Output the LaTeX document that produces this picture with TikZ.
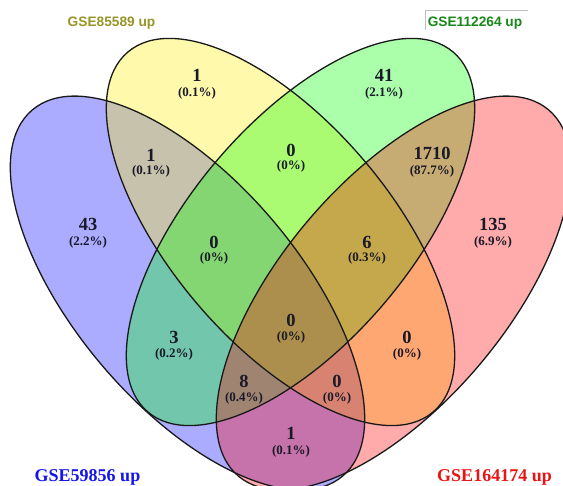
\documentclass[tikz,border=0pt]{standalone}
\usepackage{fontspec}
\setmainfont{Liberation Serif}
\newfontfamily\titlesans{Liberation Sans}
\definecolor{olivetitle}{RGB}{150,150,40}
\definecolor{greentitle}{RGB}{25,135,25}
\definecolor{bluetitle}{RGB}{20,20,235}
\definecolor{redtitle}{RGB}{235,20,20}
\definecolor{numcol}{RGB}{25,25,40}
\begin{document}
\begin{tikzpicture}[x=1pt,y=1pt,
  setfill/.style={fill opacity=0.33},
  outline/.style={draw=black!90, line width=1.3pt},
  outer/.style={x radius=240pt, y radius=112pt},
  inner/.style={x radius=236pt, y radius=110pt},
  num/.style={font=\bfseries\fontsize{18.5}{20}\selectfont, text=numcol, inner sep=0pt},
  pct/.style={font=\bfseries\fontsize{13}{14}\selectfont, text=numcol, inner sep=0pt},
  toptitle/.style={font=\titlesans\bfseries\fontsize{13.7}{15}\selectfont, inner sep=0pt},
  bottitle/.style={font=\bfseries\fontsize{18}{20}\selectfont, inner sep=0pt, anchor=base},
]
\useasboundingbox (0,0) rectangle (563,486);
\fill[white] (0,0) rectangle (563,486);
% fills
\fill[blue, setfill, rotate around={-49.7:(187.5,193)}] (187.5,193) ellipse [outer];
\fill[yellow, setfill, rotate around={-49.7:(280.5,254)}] (280.5,254) ellipse [inner];
\fill[green, setfill, rotate around={49.7:(300.5,254)}] (300.5,254) ellipse [inner];
\fill[red, setfill, rotate around={49.7:(393.5,193)}] (393.5,193) ellipse [outer];
% outlines
\draw[outline, rotate around={-49.7:(187.5,193)}] (187.5,193) ellipse [outer];
\draw[outline, rotate around={-49.7:(280.5,254)}] (280.5,254) ellipse [inner];
\draw[outline, rotate around={49.7:(300.5,254)}] (300.5,254) ellipse [inner];
\draw[outline, rotate around={49.7:(393.5,193)}] (393.5,193) ellipse [outer];
% counts
\node[num] (nB) at (197,411) {1};      \node[pct] (pB) at (197,393) {(0.1\%)};
\node[num] (nC) at (384,411) {41};     \node[pct] (pC) at (384,393) {(2.1\%)};
\node[num] (nAB) at (151,331) {1};     \node[pct] (pAB) at (151,315) {(0.1\%)};
\node[num] (nA) at (88,262) {43};      \node[pct] (pA) at (88,244) {(2.2\%)};
\node[num] (nBC) at (291,336) {0};     \node[pct] (pBC) at (291,320) {(0\%)};
\node[num] (nCD) at (432,333) {1710};  \node[pct] (pCD) at (432,315) {(87.7\%)};
\node[num] (nD) at (493,262) {135};    \node[pct] (pD) at (493,244) {(6.9\%)};
\node[num] (nABC) at (214,244) {0};    \node[pct] (pABC) at (214,228) {(0\%)};
\node[num] (nBCD) at (367,244) {6};    \node[pct] (pBCD) at (367,228) {(0.3\%)};
\node[num] (nAC) at (174,149) {3};     \node[pct] (pAC) at (174,132) {(0.2\%)};
\node[num] (nABCD) at (291,166) {0};   \node[pct] (pABCD) at (291,149) {(0\%)};
\node[num] (nBD) at (407,149) {0};     \node[pct] (pBD) at (407,132) {(0\%)};
\node[num] (nACD) at (244,104.5) {8};  \node[pct] (pACD) at (244,87.5) {(0.4\%)};
\node[num] (nABD) at (337,104.5) {0};  \node[pct] (pABD) at (337,87.5) {(0\%)};
\node[num] (nAD) at (291,53) {1};      \node[pct] (pAD) at (291,35) {(0.1\%)};
% titles
\node[toptitle, text=olivetitle] (tB) at (111.5,463) {GSE85589 up};
\node[toptitle, text=greentitle] (tC) at (475,463) {GSE112264 up};
\draw[black!25, line width=0.6pt] (425,455.5) -- (425,475.2) -- (528,475.2);
\node[bottitle, text=bluetitle] (tA) at (87.5,4) {GSE59856 up};
\node[bottitle, text=redtitle] (tD) at (494.5,4) {GSE164174 up};
\end{tikzpicture}
\end{document}
